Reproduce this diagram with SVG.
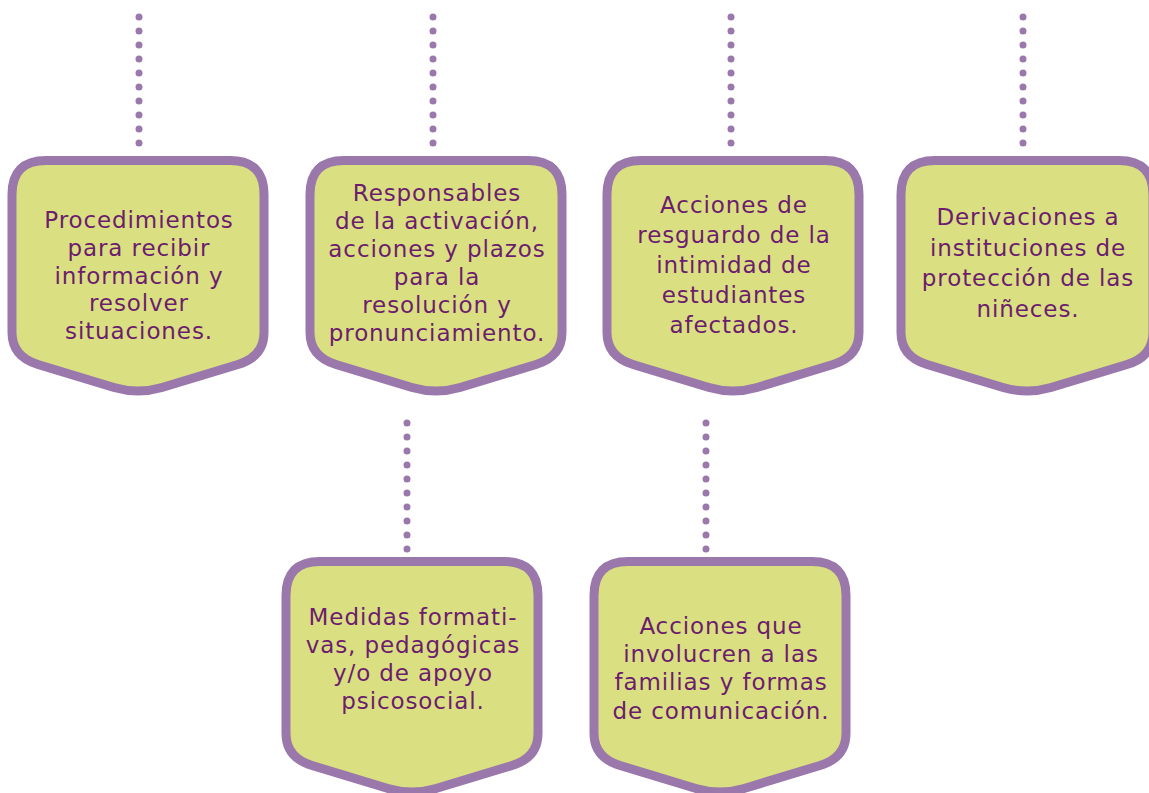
<svg xmlns="http://www.w3.org/2000/svg" width="1149" height="793" viewBox="0 0 1149 793">
<defs>
<style>
.box{fill:#dae081;stroke:#9b78ab;stroke-width:9;stroke-linejoin:round}
.dots{stroke:#9b78ab;stroke-width:7;stroke-linecap:round;stroke-dasharray:0 14;fill:none}
.t{font-family:"DejaVu Sans","Liberation Sans",sans-serif;font-size:23px;letter-spacing:0.9px;fill:#6c1d6e;text-anchor:middle}
</style>
<path id="shape" d="M -126,34 Q -126,0 -92,0 H 92 Q 126,0 126,34 V 172 Q 126,196 100,204 L 24,227 Q 0,234 -24,227 L -100,204 Q -126,196 -126,172 Z"/>
</defs>
<rect width="1149" height="793" fill="#ffffff"/>
<g id="connectors">
<line class="dots" x1="139" y1="17" x2="139" y2="144"/>
<line class="dots" x1="433" y1="17" x2="433" y2="144"/>
<line class="dots" x1="731" y1="17" x2="731" y2="144"/>
<line class="dots" x1="1023" y1="17" x2="1023" y2="144"/>
<line class="dots" x1="407" y1="423" x2="407" y2="550"/>
<line class="dots" x1="706" y1="423" x2="706" y2="550"/>
</g>
<g id="node1">
<use href="#shape" class="box" transform="translate(138,160.5)"/>
<text class="t"><tspan x="139" y="228">Procedimientos</tspan><tspan x="139" y="256">para recibir</tspan><tspan x="139" y="284">información y</tspan><tspan x="139" y="311">resolver</tspan><tspan x="139" y="339">situaciones.</tspan></text>
</g>
<g id="node2">
<use href="#shape" class="box" transform="translate(436,160.5)"/>
<text class="t"><tspan x="437" y="201">Responsables</tspan><tspan x="437" y="229">de la activación,</tspan><tspan x="437" y="257">acciones y plazos</tspan><tspan x="437" y="285">para la</tspan><tspan x="437" y="313">resolución y</tspan><tspan x="437" y="341">pronunciamiento.</tspan></text>
</g>
<g id="node3">
<use href="#shape" class="box" transform="translate(733,160.5)"/>
<text class="t"><tspan x="734" y="213">Acciones de</tspan><tspan x="734" y="243">resguardo de la</tspan><tspan x="734" y="273">intimidad de</tspan><tspan x="734" y="303">estudiantes</tspan><tspan x="734" y="333">afectados.</tspan></text>
</g>
<g id="node4">
<use href="#shape" class="box" transform="translate(1027,160.5)"/>
<text class="t"><tspan x="1028" y="225">Derivaciones a</tspan><tspan x="1028" y="256">instituciones de</tspan><tspan x="1028" y="286">protección de las</tspan><tspan x="1028" y="317">niñeces.</tspan></text>
</g>
<g id="node5">
<use href="#shape" class="box" transform="translate(412,561.5)"/>
<text class="t"><tspan x="413" y="625">Medidas formati-</tspan><tspan x="413" y="653">vas, pedagógicas</tspan><tspan x="413" y="681">y/o de apoyo</tspan><tspan x="413" y="709">psicosocial.</tspan></text>
</g>
<g id="node6">
<use href="#shape" class="box" transform="translate(720,561.5)"/>
<text class="t"><tspan x="721" y="634">Acciones que</tspan><tspan x="721" y="662">involucren a las</tspan><tspan x="721" y="690">familias y formas</tspan><tspan x="721" y="719">de comunicación.</tspan></text>
</g>
</svg>
